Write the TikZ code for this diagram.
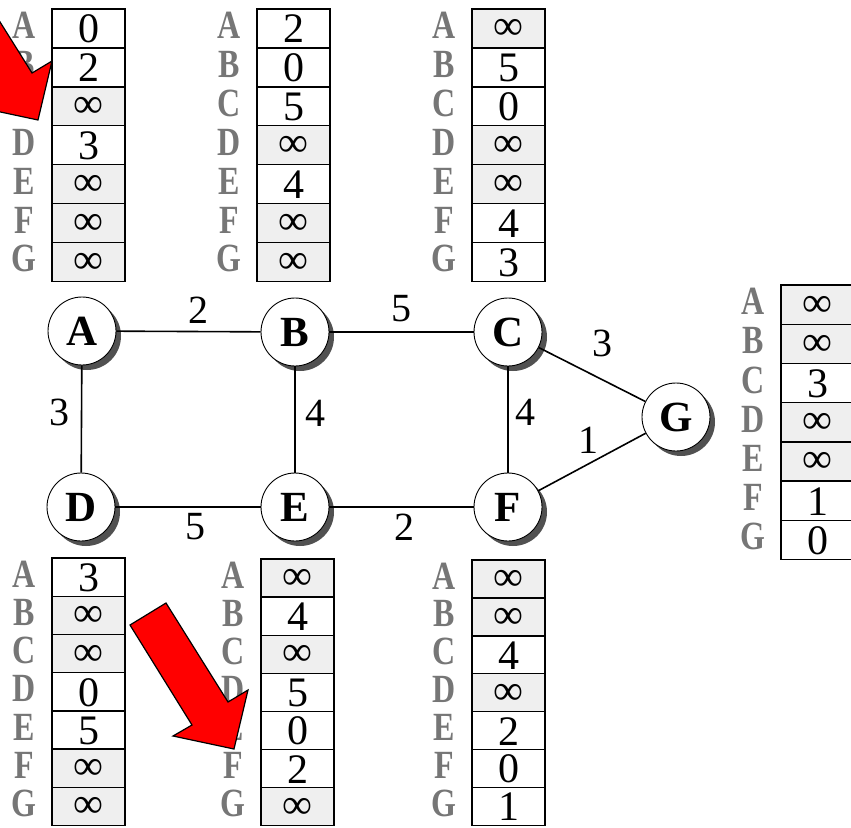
\documentclass[tikz,border=0pt]{standalone}
\usepackage{fontspec}
\setmainfont{Liberation Serif}
\usetikzlibrary{shadows}
\newcommand\rowletter[1]{\ifcase#1\or A\or B\or C\or D\or E\or F\or G\fi}
\def\infkey{i}
% #1 name, #2 left x, #3 top y, #4 row height, #5 values
\newcommand\dvtab[5]{%
  \foreach \v [count=\k] in {#5} {%
    \pgfmathsetmacro\yc{#3+(\k-0.5)*#4}%
    \ifx\v\infkey
      \node[cellbox, fill=cellgray, minimum height=#4] (#1-\k) at (#2+36.5,\yc) {\raisebox{3pt}{∞}};
    \else
      \node[cellbox, fill=white, minimum height=#4] (#1-\k) at (#2+36.5,\yc) {\v};
    \fi
    \node[rowlab] (#1-l\k) at (#2-28,\yc-3) {\scalebox{0.8}[1]{\rowletter{\k}}};
  }%
}
\definecolor{cellgray}{HTML}{EFEFEF}
\definecolor{labgray}{HTML}{767676}
\begin{document}
\begin{tikzpicture}[x=1pt,y=-1pt,
  cellbox/.style={draw=black, line width=1.4pt, minimum width=73pt, inner sep=0pt,
     text height=29pt, text depth=0pt, font=\fontsize{42}{42}\selectfont},
  rowlab/.style={inner sep=0pt, text=labgray, font=\fontsize{40}{40}\selectfont\bfseries},
  gnode/.style={circle, draw=black, line width=0.9pt, fill=white, minimum size=68pt, inner sep=0pt,
     font=\fontsize{43}{43}\selectfont\bfseries,
     drop shadow={shadow xshift=5pt, shadow yshift=-5pt, fill=black!80, opacity=0.85}},
  edge/.style={draw=black, line width=1.6pt},
  elab/.style={inner sep=0pt, font=\fontsize{40}{40}\selectfont},
  bigarrow/.style={fill=red, draw=black, line width=1.2pt, line join=miter}]
\useasboundingbox (0,0) rectangle (851,827);
\clip (0,0) rectangle (851,827);
\fill[white] (0,0) rectangle (851,827);

% distance-vector tables
\dvtab{tl}{52}{9}{38.9}{0,2,i,3,i,i,i}
\dvtab{tm}{257}{9}{38.9}{2,0,5,i,4,i,i}
\dvtab{tr}{472}{9}{38.9}{i,5,0,i,i,4,3}
\dvtab{rt}{781}{285}{39.2}{i,i,3,i,i,1,0}
\dvtab{bl}{52}{558}{38.2}{3,i,i,0,5,i,i}
\dvtab{bm}{261}{559}{38.1}{i,4,i,5,0,2,i}
\dvtab{br}{472}{560}{37.9}{i,i,4,i,2,0,1}

% graph nodes
\node[gnode] (A) at (82,331) {A};
\node[gnode] (B) at (295,332) {B};
\node[gnode] (C) at (508,332) {C};
\node[gnode] (D) at (81,507) {D};
\node[gnode] (E) at (295,507) {E};
\node[gnode] (F) at (508,507) {F};
\node[gnode] (G) at (676,417) {G};

% edges
\draw[edge] (A) -- (B);
\draw[edge] (B) -- (C);
\draw[edge] (A) -- (D);
\draw[edge] (B) -- (E);
\draw[edge] (C) -- (F);
\draw[edge] (D) -- (E);
\draw[edge] (E) -- (F);
\draw[edge] (C) -- (G);
\draw[edge] (F) -- (G);

% edge labels
\node[elab] (lab) at (198,310) {2};
\node[elab] (lbc) at (401,309) {5};
\node[elab] (lad) at (59,412) {3};
\node[elab] (lbe) at (315,413) {4};
\node[elab] (lcf) at (525,412) {4};
\node[elab] (lfg) at (588,440) {1};
\node[elab] (lcg) at (602,343) {3};
\node[elab] (lde) at (195,527) {5};
\node[elab] (lef) at (404,527) {2};

% red arrows
\draw[bigarrow] (-66,-4) -- (-30,-26) -- (32,73) -- (52,61) -- (38,120) -- (-23,107) -- (-4,96) -- cycle;
\draw[bigarrow] (130,625) -- (166,603) -- (228,702) -- (248,690) -- (234,749) -- (173,736) -- (192,725) -- cycle;
\end{tikzpicture}
\end{document}
